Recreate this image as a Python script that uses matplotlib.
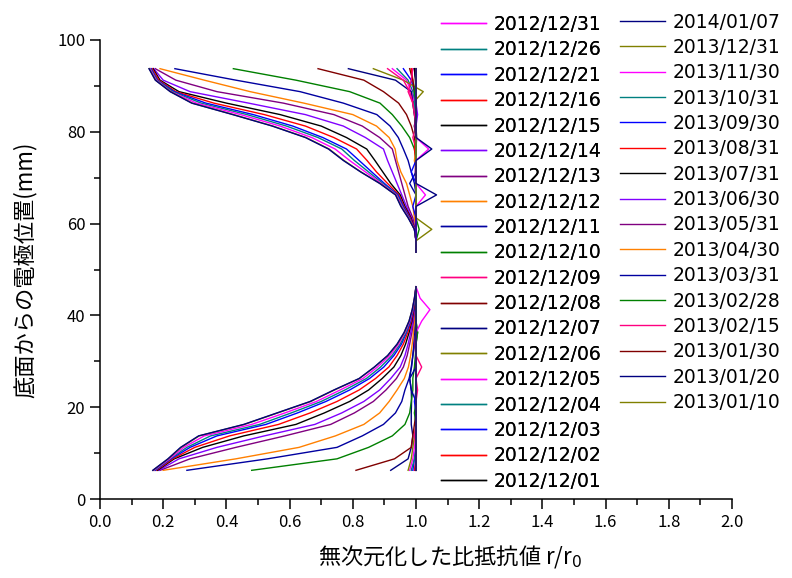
import matplotlib
matplotlib.use('Agg')
import matplotlib.pyplot as plt
import numpy as np
from matplotlib.ticker import MultipleLocator

plt.rcParams['font.family'] = ['Noto Sans CJK JP', 'DejaVu Sans']

# electrode depths (mm): upper block listed top -> bottom, lower block bottom -> top
depth_upper = [93.75, 91.25, 88.75, 86.25, 83.75, 81.25, 78.75, 76.25, 73.75,
               71.25, 68.75, 66.25, 63.75, 61.25, 58.75, 56.25, 53.75]
depth_lower = [6.25, 8.75, 11.25, 13.75, 16.25, 18.75, 21.25, 23.75, 26.25,
               28.75, 31.25, 33.75, 36.25, 38.75, 41.25, 43.75, 46.25]

labels = ['2012/12/01', '2012/12/02', '2012/12/03', '2012/12/04', '2012/12/05',
          '2012/12/06', '2012/12/07', '2012/12/08', '2012/12/09', '2012/12/10',
          '2012/12/11', '2012/12/12', '2012/12/13', '2012/12/14', '2012/12/15',
          '2012/12/16', '2012/12/21', '2012/12/26', '2012/12/31',
          '2013/01/10', '2013/01/20', '2013/01/30', '2013/02/15', '2013/02/28',
          '2013/03/31', '2013/04/30', '2013/05/31', '2013/06/30', '2013/07/31',
          '2013/08/31', '2013/09/30', '2013/10/31', '2013/11/30', '2013/12/31',
          '2014/01/07']

palette = ['#000000', '#FF0000', '#0000FF', '#008080', '#FF00FF', '#808000',
           '#000080', '#800000', '#FF0080', '#008000', '#0000A0', '#FF8000',
           '#800080', '#8000FF']

# upper electrodes (r/r0)
up_121201 = [0.995, 0.998, 1.0, 1.0, 1.0, 1.0, 1.002, 1.0, 1.0, 0.998, 1.0, 1.0, 1.0, 1.0, 1.0, 1.0, 1.0]
up_121202 = [0.985, 0.99, 0.995, 1.0, 1.0, 1.0, 1.0, 1.0, 1.0, 1.0, 1.0, 1.0, 1.0, 0.998, 1.0, 1.0, 1.0]
up_121203 = [0.96, 0.985, 0.995, 0.998, 1.0, 1.0, 1.0, 0.998, 1.0, 1.0, 1.0, 1.0, 1.0, 1.0, 1.0, 1.0, 1.0]
up_121204 = [0.94, 0.975, 0.99, 0.995, 1.0, 1.0, 1.0, 1.0, 1.0, 1.0, 1.0, 1.0, 1.0, 1.0, 1.0, 1.0, 1.0]
up_121205 = [0.925, 0.97, 0.985, 0.995, 1.0, 1.0, 1.0, 1.0, 1.0, 0.998, 1.0, 1.0, 1.0, 1.0, 1.0, 1.0, 1.0]
up_121206 = [0.865, 0.96, 1.023, 0.99, 0.995, 1.0, 1.0, 1.0, 1.0, 1.0, 1.0, 1.0, 1.0, 1.0, 1.0, 1.0, 1.0]
up_121207 = [0.786, 0.935, 0.985, 0.99, 0.995, 1.0, 1.0, 1.0, 1.0, 1.0, 1.0, 1.0, 1.0, 1.0, 1.0, 1.0, 1.0]
up_121208 = [0.69, 0.835, 0.897, 0.945, 0.97, 0.985, 0.995, 1.0, 1.0, 1.0, 1.0, 1.0, 1.0, 1.0, 1.0, 1.0, 1.0]
up_121209 = [0.91, 0.96, 0.98, 0.99, 0.995, 1.0, 1.0, 1.0, 1.0, 1.0, 1.0, 1.0, 1.0, 1.0, 1.0, 1.0, 1.0]
up_121210 = [0.422, 0.62, 0.79, 0.886, 0.925, 0.955, 0.98, 0.995, 1.0, 1.0, 1.0, 1.0, 1.0, 1.0, 1.0, 1.0, 1.0]
up_121211 = [0.237, 0.43, 0.633, 0.77, 0.876, 0.918, 0.944, 0.96, 0.975, 0.985, 0.995, 1.0, 1.0, 1.0, 1.0, 1.0, 1.0]
up_121212 = [0.19, 0.33, 0.475, 0.645, 0.80, 0.875, 0.915, 0.934, 0.94, 0.952, 0.97, 0.98, 0.99, 0.995, 1.0, 1.0, 1.0]
up_121213 = [0.175, 0.24, 0.37, 0.58, 0.74, 0.83, 0.885, 0.925, 0.935, 0.945, 0.955, 0.965, 0.975, 0.99, 0.997, 1.0, 1.0]
up_121214 = [0.17, 0.20, 0.285, 0.47, 0.65, 0.77, 0.84, 0.897, 0.91, 0.925, 0.94, 0.955, 0.97, 0.986, 0.996, 1.0, 1.0]
up_121215 = [0.168, 0.19, 0.25, 0.40, 0.57, 0.70, 0.78, 0.844, 0.87, 0.895, 0.92, 0.95, 0.965, 0.984, 0.996, 1.0, 1.0]
up_121216 = [0.165, 0.186, 0.24, 0.36, 0.52, 0.65, 0.74, 0.812, 0.845, 0.875, 0.91, 0.946, 0.962, 0.982, 0.996, 1.0, 1.0]
up_121221 = [0.162, 0.182, 0.235, 0.335, 0.485, 0.61, 0.705, 0.78, 0.82, 0.86, 0.90, 0.943, 0.96, 0.98, 0.995, 1.0, 1.0]
up_121226 = [0.16, 0.18, 0.23, 0.32, 0.465, 0.59, 0.69, 0.765, 0.805, 0.85, 0.895, 0.94, 0.957, 0.978, 0.995, 1.0, 1.0]
up_121231 = [0.158, 0.178, 0.225, 0.305, 0.445, 0.57, 0.67, 0.744, 0.79, 0.84, 0.89, 0.938, 0.955, 0.977, 0.995, 1.0, 1.0]
up_130110 = [0.156, 0.176, 0.223, 0.292, 0.422, 0.547, 0.652, 0.725, 0.772, 0.826, 0.886, 0.936, 0.953, 0.976, 0.995, 1.0, 1.0]
up_130120 = [0.155, 0.175, 0.222, 0.29, 0.42, 0.545, 0.65, 0.723, 0.77, 0.825, 0.885, 0.935, 0.952, 0.975, 0.995, 1.0, 1.0]
up_130130 = [0.98, 0.99, 0.995, 1.0, 1.0, 1.0, 1.0, 1.0, 1.0, 1.0, 1.0, 1.0, 1.0, 1.0, 1.0, 1.0, 1.0]
up_130215 = [0.99, 0.985, 0.975, 0.99, 1.0, 1.0, 0.99, 1.0, 1.0, 1.0, 1.0, 1.0, 1.0, 1.0, 1.0, 1.0, 1.0]
up_130228 = [1.0, 1.0, 0.995, 1.0, 1.0, 0.995, 1.0, 1.0, 1.0, 1.0, 1.0, 1.0, 1.0, 1.0, 1.01, 1.0, 1.0]
up_130331 = [0.995, 1.0, 1.0, 1.0, 1.0, 1.0, 1.0, 1.0, 1.0, 1.0, 0.98, 1.0, 1.0, 1.0, 1.0, 1.0, 1.0]
up_130430 = [1.0, 1.0, 1.0, 1.0, 1.0, 1.0, 1.0, 1.0, 0.995, 1.0, 1.0, 1.0, 1.0, 1.0, 1.0, 1.0, 1.0]
up_130531 = [1.0, 1.0, 1.0, 1.0, 1.0, 0.995, 1.0, 1.0, 1.0, 1.0, 1.0, 1.0, 1.0, 1.0, 1.0, 1.0, 1.0]
up_130630 = [1.0, 1.0, 1.0, 1.0, 1.005, 1.0, 1.0, 1.0, 1.0, 1.0, 1.0, 1.0, 1.0, 1.0, 1.0, 1.0, 1.0]
up_130731 = [0.995, 1.0, 1.0, 1.0, 1.0, 1.0, 1.0, 1.0, 1.0, 1.0, 1.0, 1.0, 1.0, 1.0, 1.0, 1.0, 1.0]
up_130831 = [1.0, 1.0, 1.0, 1.0, 1.0, 1.0, 1.0, 0.995, 1.0, 1.0, 1.0, 1.0, 1.0, 1.0, 1.0, 1.0, 1.0]
up_130930 = [1.0, 1.0, 1.0, 1.0, 1.0, 1.0, 1.0, 1.0, 1.0, 0.985, 1.0, 1.0, 0.99, 1.0, 1.0, 1.0, 1.0]
up_131031 = [1.0, 1.0, 1.0, 0.995, 1.0, 1.0, 1.0, 1.0, 1.0, 1.0, 1.0, 1.0, 1.0, 1.0, 1.0, 1.0, 1.0]
up_131130 = [1.0, 1.0, 1.0, 1.0, 1.0, 1.0, 1.0, 1.04, 1.0, 1.0, 1.0, 1.03, 1.0, 1.0, 1.0, 1.0, 1.0]
up_131231 = [1.0, 1.0, 1.0, 1.0, 1.0, 1.0, 1.0, 1.0, 1.0, 1.0, 1.0, 1.0, 1.0, 1.0, 1.05, 1.0, 1.0]
up_140107 = [1.0, 1.0, 1.0, 1.0, 1.0, 1.0, 1.0, 1.05, 1.0, 1.0, 1.0, 1.065, 1.0, 1.0, 1.0, 1.0, 1.0]

# lower electrodes (r/r0)
lo_121201 = [1.0, 1.0, 1.0, 1.0, 1.0, 1.0, 1.0, 1.0, 1.0, 1.0, 1.0, 1.0, 1.0, 1.0, 1.0, 1.0, 1.0]
lo_121202 = [0.995, 1.0, 1.0, 1.0, 1.0, 1.0, 1.0, 1.0, 1.0, 1.0, 1.0, 1.0, 1.0, 1.0, 1.0, 1.0, 1.0]
lo_121203 = [0.99, 0.995, 1.0, 1.0, 1.0, 1.0, 1.0, 1.0, 1.0, 1.0, 1.0, 1.0, 1.0, 1.0, 1.0, 1.0, 1.0]
lo_121204 = [0.985, 0.995, 1.0, 1.0, 1.0, 1.0, 1.0, 1.0, 1.0, 1.0, 1.0, 1.0, 1.0, 1.0, 1.0, 1.0, 1.0]
lo_121205 = [0.98, 0.99, 0.995, 1.0, 1.0, 1.0, 1.0, 1.0, 1.0, 1.0, 1.0, 1.0, 1.0, 1.0, 1.0, 1.0, 1.0]
lo_121206 = [0.975, 0.985, 0.99, 0.995, 1.0, 1.0, 1.0, 1.0, 1.0, 1.0, 1.0, 1.0, 1.0, 1.0, 1.0, 1.0, 1.0]
lo_121207 = [0.92, 0.975, 0.985, 0.99, 0.985, 0.985, 0.986, 0.985, 0.98, 0.985, 0.99, 0.995, 1.0, 1.0, 1.0, 1.0, 1.0]
lo_121208 = [0.81, 0.932, 0.985, 0.99, 0.995, 1.0, 1.0, 1.0, 1.0, 1.0, 1.0, 1.0, 1.0, 1.0, 1.0, 1.0, 1.0]
lo_121209 = [1.0, 1.0, 1.0, 0.995, 1.0, 1.0, 1.0, 1.0, 1.0, 1.018, 1.0, 1.0, 1.0, 1.0, 1.0, 1.0, 1.0]
lo_121210 = [0.48, 0.75, 0.85, 0.925, 0.965, 0.98, 0.985, 0.99, 0.99, 0.995, 0.998, 1.0, 1.005, 1.0, 1.0, 1.0, 1.0]
lo_121211 = [0.275, 0.53, 0.75, 0.83, 0.897, 0.935, 0.955, 0.965, 0.978, 0.986, 0.99, 0.993, 0.995, 0.997, 0.998, 0.999, 1.0]
lo_121212 = [0.20, 0.43, 0.63, 0.745, 0.835, 0.885, 0.915, 0.94, 0.963, 0.976, 0.983, 0.988, 0.992, 0.995, 0.997, 0.998, 1.0]
lo_121213 = [0.19, 0.285, 0.43, 0.585, 0.73, 0.805, 0.865, 0.905, 0.938, 0.96, 0.972, 0.98, 0.987, 0.992, 0.995, 0.998, 1.0]
lo_121214 = [0.186, 0.25, 0.37, 0.52, 0.68, 0.765, 0.835, 0.885, 0.92, 0.95, 0.965, 0.975, 0.983, 0.99, 0.994, 0.998, 1.0]
lo_121215 = [0.182, 0.235, 0.325, 0.455, 0.62, 0.71, 0.79, 0.85, 0.893, 0.93, 0.952, 0.967, 0.978, 0.987, 0.993, 0.997, 1.0]
lo_121216 = [0.178, 0.23, 0.30, 0.41, 0.565, 0.665, 0.75, 0.82, 0.872, 0.914, 0.94, 0.96, 0.974, 0.985, 0.992, 0.997, 1.0]
lo_121221 = [0.175, 0.225, 0.285, 0.37, 0.525, 0.625, 0.715, 0.79, 0.853, 0.898, 0.93, 0.954, 0.97, 0.983, 0.991, 0.996, 1.0]
lo_121226 = [0.172, 0.222, 0.275, 0.35, 0.505, 0.605, 0.70, 0.775, 0.843, 0.888, 0.924, 0.95, 0.968, 0.981, 0.99, 0.996, 1.0]
lo_121231 = [0.17, 0.22, 0.265, 0.33, 0.48, 0.585, 0.685, 0.76, 0.832, 0.878, 0.917, 0.945, 0.965, 0.98, 0.989, 0.995, 1.0]
lo_130110 = [0.168, 0.216, 0.257, 0.314, 0.457, 0.562, 0.667, 0.742, 0.821, 0.869, 0.911, 0.941, 0.963, 0.978, 0.988, 0.995, 1.0]
lo_130120 = [0.167, 0.215, 0.255, 0.312, 0.455, 0.56, 0.665, 0.74, 0.82, 0.868, 0.91, 0.94, 0.962, 0.978, 0.988, 0.995, 1.0]
lo_130130 = [1.0, 1.0, 1.0, 1.0, 1.0, 1.0, 1.0, 1.0, 1.0, 1.0, 1.0, 1.0, 1.0, 1.0, 1.0, 1.0, 1.0]
lo_130215 = [1.0, 1.0, 1.0, 1.0, 1.0, 1.0, 1.0, 1.005, 1.0, 1.0, 1.0, 1.0, 1.0, 1.0, 1.0, 1.0, 1.0]
lo_130228 = [1.0, 1.0, 1.0, 1.0, 1.0, 0.995, 1.0, 1.0, 1.0, 1.0, 1.0, 1.0, 1.005, 1.0, 1.0, 1.0, 1.0]
lo_130331 = [1.0, 1.0, 1.0, 1.0, 1.0, 1.0, 1.0, 0.985, 0.98, 1.0, 1.0, 1.0, 1.0, 1.0, 1.0, 1.0, 1.0]
lo_130430 = [1.0, 1.0, 1.0, 1.0, 1.0, 1.0, 1.0, 1.0, 1.0, 1.0, 1.0, 1.0, 1.0, 1.0, 1.0, 1.0, 1.0]
lo_130531 = [0.998, 1.0, 1.0, 1.0, 1.0, 1.0, 1.0, 1.0, 1.0, 1.0, 1.0, 0.995, 1.0, 1.0, 1.0, 1.0, 1.0]
lo_130630 = [1.0, 1.0, 1.0, 1.0, 1.0, 1.0, 1.0, 1.0, 1.0, 1.0, 1.0, 1.0, 1.0, 1.0, 1.0, 1.0, 1.0]
lo_130731 = [1.0, 1.0, 1.0, 1.0, 1.0, 1.0, 1.0, 1.0, 1.0, 1.0, 1.0, 1.0, 1.0, 1.0, 1.0, 1.0, 1.0]
lo_130831 = [1.0, 1.0, 1.0, 1.0, 1.0, 1.0, 1.0, 1.0, 1.0, 1.0, 1.0, 1.0, 1.0, 1.0, 1.0, 1.0, 1.0]
lo_130930 = [1.0, 1.0, 1.0, 1.0, 1.0, 1.0, 0.995, 1.0, 1.0, 1.0, 1.0, 1.0, 1.0, 1.0, 1.0, 1.0, 1.0]
lo_131031 = [1.0, 1.0, 1.0, 1.0, 1.0, 1.0, 1.0, 1.0, 1.0, 1.0, 1.0, 1.0, 1.0, 1.0, 1.0, 1.0, 1.0]
lo_131130 = [1.0, 1.0, 1.0, 1.0, 1.0, 1.0, 1.0, 1.0, 1.0, 1.0, 1.0, 1.0, 1.0, 1.018, 1.044, 1.013, 1.0]
lo_131231 = [1.0, 1.0, 1.0, 1.0, 1.0, 1.0, 1.0, 1.0, 1.0, 1.0, 1.0, 1.0, 1.0, 1.0, 1.0, 1.0, 1.0]
lo_140107 = [1.0, 1.0, 1.0, 1.0, 1.0, 1.0, 1.0, 1.0, 1.0, 1.0, 1.0, 1.0, 1.0, 1.0, 1.0, 1.0, 1.0]

upper = [up_121201, up_121202, up_121203, up_121204, up_121205, up_121206, up_121207,
         up_121208, up_121209, up_121210, up_121211, up_121212, up_121213, up_121214,
         up_121215, up_121216, up_121221, up_121226, up_121231, up_130110, up_130120,
         up_130130, up_130215, up_130228, up_130331, up_130430, up_130531, up_130630,
         up_130731, up_130831, up_130930, up_131031, up_131130, up_131231, up_140107]
lower = [lo_121201, lo_121202, lo_121203, lo_121204, lo_121205, lo_121206, lo_121207,
         lo_121208, lo_121209, lo_121210, lo_121211, lo_121212, lo_121213, lo_121214,
         lo_121215, lo_121216, lo_121221, lo_121226, lo_121231, lo_130110, lo_130120,
         lo_130130, lo_130215, lo_130228, lo_130331, lo_130430, lo_130531, lo_130630,
         lo_130731, lo_130831, lo_130930, lo_131031, lo_131130, lo_131231, lo_140107]

fig = plt.figure(figsize=(7.92, 5.78), dpi=100)
ax = fig.add_axes([100 / 792, 1 - 499 / 578, 632 / 792, 459 / 578])

handles = []
for i, lab in enumerate(labels):
    # one line per date, with a gap between the two electrode blocks
    x = list(lower[i]) + [np.nan] + list(upper[i])
    y = depth_lower + [np.nan] + depth_upper
    h, = ax.plot(x, y, color=palette[i % len(palette)], lw=1.0, label=lab)
    handles.append(h)

ax.set_xlim(0, 2.0)
ax.set_ylim(0, 100)
ax.xaxis.set_major_locator(MultipleLocator(0.2))
ax.xaxis.set_minor_locator(MultipleLocator(0.1))
ax.yaxis.set_major_locator(MultipleLocator(20))
ax.yaxis.set_minor_locator(MultipleLocator(10))
ax.xaxis.set_major_formatter(plt.FuncFormatter(lambda v, p: f'{v:.1f}'))
ax.tick_params(which='major', direction='out', length=7, width=1.1, labelsize=12)
ax.tick_params(which='minor', direction='out', length=4, width=1.1)
for s in ['top', 'right']:
    ax.spines[s].set_visible(False)
for s in ['left', 'bottom']:
    ax.spines[s].set_linewidth(1.1)

ax.set_ylabel('底面からの電極位置(mm)', fontsize=16, labelpad=15)
fig.text(450 / 792, 1 - 556 / 578, '無次元化した比抵抗値 r/r$_0$', fontsize=16,
         ha='center', va='center')

legend_kw = dict(loc='upper left', frameon=False, handlelength=2.4, handletextpad=0.4,
                 labelspacing=0.34, borderpad=0, borderaxespad=0,
                 prop={'family': 'DejaVu Sans', 'size': 13.5})
col1 = handles[:19][::-1]
col2 = handles[19:][::-1]
leg1 = fig.legend(handles=col1, bbox_to_anchor=(441 / 792, 1 - 15 / 578), **legend_kw)
fig.add_artist(leg1)
leg2 = fig.legend(handles=col2, bbox_to_anchor=(620 / 792, 1 - 12.5 / 578), **legend_kw)

fig.savefig('out.png', dpi=100)
